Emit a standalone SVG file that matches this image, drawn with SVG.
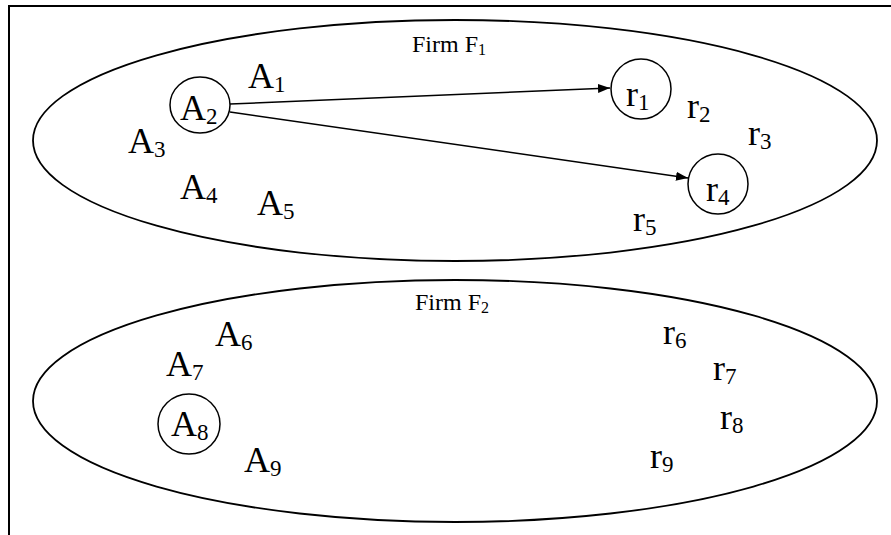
<svg xmlns="http://www.w3.org/2000/svg" width="891" height="535" viewBox="0 0 891 535">
<defs>
<style>
.frame{stroke:#000;stroke-width:2;fill:none}
.firm{fill:none;stroke:#000;stroke-width:1.8}
.node{fill:none;stroke:#000;stroke-width:1.5}
.lbl{font-family:"Liberation Serif","Times New Roman",serif;font-size:36px;fill:#000}
.sub{font-size:23px}
.title{font-family:"Liberation Serif","Times New Roman",serif;font-size:24px;fill:#000}
.tsub{font-size:16px}
.edge{stroke:#000;stroke-width:1.5;fill:none}
</style>
<marker id="arr" viewBox="0 0 12 9" refX="12" refY="4.5" markerWidth="12" markerHeight="9" markerUnits="userSpaceOnUse" orient="auto">
<path d="M0,0 L12,4.5 L0,9 Z" fill="#000"/>
</marker>
</defs>
<rect width="891" height="535" fill="#fff"/>
<path class="frame" d="M9,535 L9,6 L891,6"/>

<g id="firm1">
<ellipse class="firm" cx="455" cy="140.5" rx="422" ry="120.5"/>
<text class="title" x="412" y="52">Firm F<tspan class="tsub" dy="3">1</tspan></text>
</g>
<g id="firm2">
<ellipse class="firm" cx="455" cy="401" rx="422" ry="121"/>
<text class="title" x="415" y="310">Firm F<tspan class="tsub" dy="3">2</tspan></text>
</g>

<g id="A1"><text class="lbl" x="248" y="88">A<tspan class="sub" dy="4">1</tspan></text></g>
<g id="A2"><ellipse class="node" cx="200" cy="105" rx="30" ry="28"/><text class="lbl" x="180" y="120">A<tspan class="sub" dy="4">2</tspan></text></g>
<g id="A3"><text class="lbl" x="128" y="153">A<tspan class="sub" dy="4">3</tspan></text></g>
<g id="A4"><text class="lbl" x="180" y="199">A<tspan class="sub" dy="4">4</tspan></text></g>
<g id="A5"><text class="lbl" x="257" y="215">A<tspan class="sub" dy="4">5</tspan></text></g>

<g id="r1"><circle class="node" cx="641" cy="89" r="30"/><text class="lbl" x="626" y="106">r<tspan class="sub" dy="4">1</tspan></text></g>
<g id="r2"><text class="lbl" x="687" y="118">r<tspan class="sub" dy="4">2</tspan></text></g>
<g id="r3"><text class="lbl" x="748" y="145">r<tspan class="sub" dy="4">3</tspan></text></g>
<g id="r4"><circle class="node" cx="718" cy="184" r="30"/><text class="lbl" x="706" y="201">r<tspan class="sub" dy="4">4</tspan></text></g>
<g id="r5"><text class="lbl" x="633" y="231">r<tspan class="sub" dy="4">5</tspan></text></g>

<g id="A6"><text class="lbl" x="215" y="346">A<tspan class="sub" dy="4">6</tspan></text></g>
<g id="A7"><text class="lbl" x="166" y="376">A<tspan class="sub" dy="4">7</tspan></text></g>
<g id="A8"><ellipse class="node" cx="189" cy="424" rx="31" ry="30"/><text class="lbl" x="171" y="436">A<tspan class="sub" dy="4">8</tspan></text></g>
<g id="A9"><text class="lbl" x="244" y="472">A<tspan class="sub" dy="4">9</tspan></text></g>

<g id="r6"><text class="lbl" x="663" y="344">r<tspan class="sub" dy="4">6</tspan></text></g>
<g id="r7"><text class="lbl" x="713" y="380">r<tspan class="sub" dy="4">7</tspan></text></g>
<g id="r8"><text class="lbl" x="720" y="429">r<tspan class="sub" dy="4">8</tspan></text></g>
<g id="r9"><text class="lbl" x="650" y="468">r<tspan class="sub" dy="4">9</tspan></text></g>

<g id="connectors">
<line class="edge" x1="230" y1="104" x2="610" y2="88" marker-end="url(#arr)"/>
<line class="edge" x1="230" y1="112" x2="688" y2="178" marker-end="url(#arr)"/>
</g>
</svg>
